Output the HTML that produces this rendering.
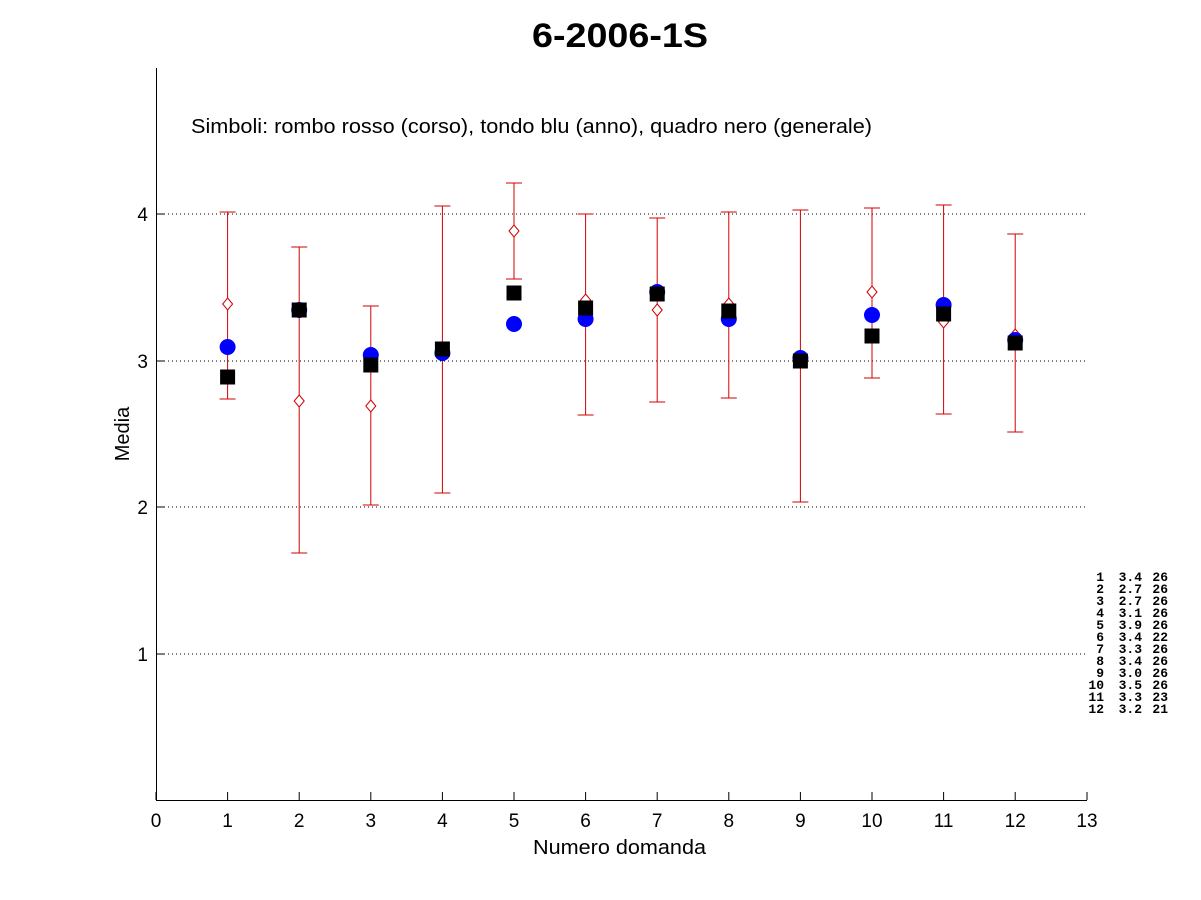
<!DOCTYPE html>
<html><head><style>body{margin:0;background:#fff}svg{display:block}</style></head><body>
<svg width="1201" height="900" xmlns="http://www.w3.org/2000/svg" font-family="Liberation Sans, sans-serif">
<defs>
<g id="cap"><line x1="-8" y1="0" x2="8" y2="0" stroke="#d00000"/></g>
<g id="dia"><polygon points="0,-6 5,0 0,6 -5,0" fill="#fff" stroke="#d00000"/></g>
<g id="cir"><circle r="8" fill="#0000ff"/></g>
<g id="sq"><rect x="-7.5" y="-7.5" width="15" height="15" fill="#000"/></g>
</defs>
<rect width="1201" height="900" fill="#fff"/>
<g stroke="#000" stroke-dasharray="1,3" stroke-width="1">
<line x1="156" y1="214" x2="1087" y2="214"/><line x1="156" y1="361" x2="1087" y2="361"/>
<line x1="156" y1="507" x2="1087" y2="507"/><line x1="156" y1="654" x2="1087" y2="654"/>
</g>
<g stroke="#000" stroke-width="1" fill="none">
<line x1="156.5" y1="68" x2="156.5" y2="800"/><line x1="156" y1="800.5" x2="1087" y2="800.5"/>
</g>
<g stroke="#000">
<line x1="156" y1="800" x2="156" y2="792"/><line x1="227.6" y1="800" x2="227.6" y2="792"/><line x1="299.2" y1="800" x2="299.2" y2="792"/><line x1="370.8" y1="800" x2="370.8" y2="792"/><line x1="442.4" y1="800" x2="442.4" y2="792"/><line x1="514" y1="800" x2="514" y2="792"/><line x1="585.6" y1="800" x2="585.6" y2="792"/><line x1="657.2" y1="800" x2="657.2" y2="792"/><line x1="728.8" y1="800" x2="728.8" y2="792"/><line x1="800.4" y1="800" x2="800.4" y2="792"/><line x1="872" y1="800" x2="872" y2="792"/><line x1="943.6" y1="800" x2="943.6" y2="792"/><line x1="1015.2" y1="800" x2="1015.2" y2="792"/><line x1="1087" y1="800" x2="1087" y2="792"/>
<line x1="156" y1="214" x2="164" y2="214"/><line x1="156" y1="361" x2="164" y2="361"/><line x1="156" y1="507" x2="164" y2="507"/><line x1="156" y1="654" x2="164" y2="654"/>
</g>
<g font-size="19" text-anchor="middle" fill="#000">
<text x="156" y="827">0</text><text x="227.6" y="827">1</text><text x="299.2" y="827">2</text><text x="370.8" y="827">3</text><text x="442.4" y="827">4</text><text x="514" y="827">5</text><text x="585.6" y="827">6</text><text x="657.2" y="827">7</text><text x="728.8" y="827">8</text><text x="800.4" y="827">9</text><text x="872" y="827">10</text><text x="943.6" y="827">11</text><text x="1015.2" y="827">12</text><text x="1087" y="827">13</text>
</g>
<text x="533" y="854" font-size="20" textLength="173" lengthAdjust="spacingAndGlyphs">Numero domanda</text>
<g font-size="19" text-anchor="end"><text x="148" y="221">4</text><text x="148" y="368">3</text><text x="148" y="514">2</text><text x="148" y="661">1</text></g>
<text transform="translate(129,434) rotate(-90)" font-size="20" text-anchor="middle">Media</text>
<text x="532" y="47" font-size="34" font-weight="bold" textLength="176" lengthAdjust="spacingAndGlyphs">6-2006-1S</text>
<text x="191" y="133" font-size="20" textLength="681" lengthAdjust="spacingAndGlyphs">Simboli: rombo rosso (corso), tondo blu (anno), quadro nero (generale)</text>
<g stroke="#d00000">
<line x1="227.6" y1="212" x2="227.6" y2="399"/><line x1="299.2" y1="247" x2="299.2" y2="553"/><line x1="370.8" y1="306" x2="370.8" y2="505"/><line x1="442.4" y1="206" x2="442.4" y2="493"/><line x1="514" y1="183" x2="514" y2="279"/><line x1="585.6" y1="214" x2="585.6" y2="415"/><line x1="657.2" y1="218" x2="657.2" y2="402"/><line x1="728.8" y1="212" x2="728.8" y2="398"/><line x1="800.4" y1="210" x2="800.4" y2="502"/><line x1="872" y1="208" x2="872" y2="378"/><line x1="943.6" y1="205" x2="943.6" y2="414"/><line x1="1015.2" y1="234" x2="1015.2" y2="432"/>
</g>
<use href="#cap" x="227.6" y="212"/><use href="#cap" x="227.6" y="399"/>
<use href="#cap" x="299.2" y="247"/><use href="#cap" x="299.2" y="553"/>
<use href="#cap" x="370.8" y="306"/><use href="#cap" x="370.8" y="505"/>
<use href="#cap" x="442.4" y="206"/><use href="#cap" x="442.4" y="493"/>
<use href="#cap" x="514" y="183"/><use href="#cap" x="514" y="279"/>
<use href="#cap" x="585.6" y="214"/><use href="#cap" x="585.6" y="415"/>
<use href="#cap" x="657.2" y="218"/><use href="#cap" x="657.2" y="402"/>
<use href="#cap" x="728.8" y="212"/><use href="#cap" x="728.8" y="398"/>
<use href="#cap" x="800.4" y="210"/><use href="#cap" x="800.4" y="502"/>
<use href="#cap" x="872" y="208"/><use href="#cap" x="872" y="378"/>
<use href="#cap" x="943.6" y="205"/><use href="#cap" x="943.6" y="414"/>
<use href="#cap" x="1015.2" y="234"/><use href="#cap" x="1015.2" y="432"/>
<use href="#dia" x="227.6" y="304"/><use href="#dia" x="299.2" y="401"/><use href="#dia" x="370.8" y="406"/><use href="#dia" x="442.4" y="353"/><use href="#dia" x="514" y="231"/><use href="#dia" x="585.6" y="300"/><use href="#dia" x="657.2" y="310"/><use href="#dia" x="728.8" y="304"/><use href="#dia" x="800.4" y="358"/><use href="#dia" x="872" y="292"/><use href="#dia" x="943.6" y="322"/><use href="#dia" x="1015.2" y="335"/>
<use href="#cir" x="227.6" y="347"/><use href="#cir" x="299.2" y="310"/><use href="#cir" x="370.8" y="355"/><use href="#cir" x="442.4" y="353"/><use href="#cir" x="514" y="324"/><use href="#cir" x="585.6" y="319"/><use href="#cir" x="657.2" y="292"/><use href="#cir" x="728.8" y="319"/><use href="#cir" x="800.4" y="358"/><use href="#cir" x="872" y="315"/><use href="#cir" x="943.6" y="305"/><use href="#cir" x="1015.2" y="340"/>
<use href="#sq" x="227.6" y="377"/><use href="#sq" x="299.2" y="310"/><use href="#sq" x="370.8" y="365"/><use href="#sq" x="442.4" y="349"/><use href="#sq" x="514" y="293"/><use href="#sq" x="585.6" y="308"/><use href="#sq" x="657.2" y="294"/><use href="#sq" x="728.8" y="311"/><use href="#sq" x="800.4" y="361"/><use href="#sq" x="872" y="336"/><use href="#sq" x="943.6" y="314"/><use href="#sq" x="1015.2" y="343"/>
<g font-family="Liberation Mono, monospace" font-size="13" font-weight="bold" text-anchor="end">
<text x="1104" y="581">1</text><text x="1104" y="593">2</text><text x="1104" y="605">3</text><text x="1104" y="617">4</text><text x="1104" y="629">5</text><text x="1104" y="641">6</text><text x="1104" y="653">7</text><text x="1104" y="665">8</text><text x="1104" y="677">9</text><text x="1104" y="689">10</text><text x="1104" y="701">11</text><text x="1104" y="713">12</text>
<text x="1142" y="581">3.4</text><text x="1142" y="593">2.7</text><text x="1142" y="605">2.7</text><text x="1142" y="617">3.1</text><text x="1142" y="629">3.9</text><text x="1142" y="641">3.4</text><text x="1142" y="653">3.3</text><text x="1142" y="665">3.4</text><text x="1142" y="677">3.0</text><text x="1142" y="689">3.5</text><text x="1142" y="701">3.3</text><text x="1142" y="713">3.2</text>
<text x="1168" y="581">26</text><text x="1168" y="593">26</text><text x="1168" y="605">26</text><text x="1168" y="617">26</text><text x="1168" y="629">26</text><text x="1168" y="641">22</text><text x="1168" y="653">26</text><text x="1168" y="665">26</text><text x="1168" y="677">26</text><text x="1168" y="689">26</text><text x="1168" y="701">23</text><text x="1168" y="713">21</text>
</g>
</svg>
</body></html>
